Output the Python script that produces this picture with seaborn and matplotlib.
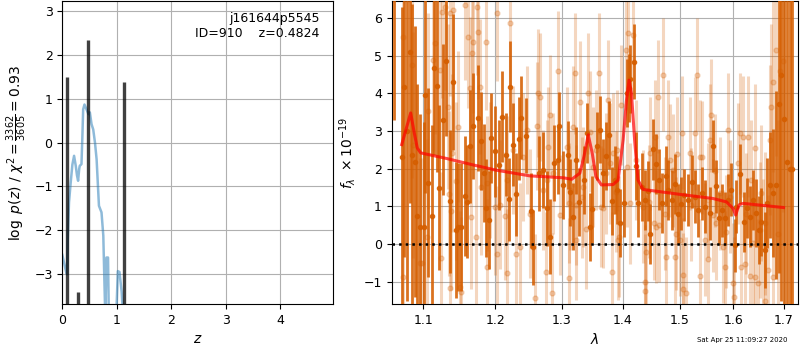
import matplotlib
matplotlib.use('Agg')
import matplotlib.pyplot as plt
import seaborn as sns
import numpy as np
import pandas as pd
from matplotlib.ticker import FixedLocator, FixedFormatter, NullLocator, NullFormatter

# ---------------- data: left panel, p(z) ----------------
pz_z = [0.0, 0.043, 0.07, 0.086, 0.10, 0.123, 0.154, 0.185, 0.216, 0.247, 0.27, 0.29,
        0.31, 0.32, 0.352, 0.37, 0.383, 0.407, 0.444, 0.48, 0.506, 0.537, 0.568, 0.60,
        0.63, 0.673, 0.72, 0.753, 0.77, 0.79, 0.81, 0.84, 0.855, 0.90, 0.95, 0.99,
        1.02, 1.05, 1.09, 1.12]
pz_logp = [-2.56, -2.80, -2.95, -3.0, -2.2, -1.36, -0.91, -0.50, -0.30, -0.53, -0.75, -0.87,
           -0.60, -0.53, -0.49, 0.20, 0.76, 0.87, 0.76, 0.65, 0.69, 0.42, 0.30, 0.0,
           -0.38, -1.44, -1.59, -2.12, -3.0, -4.0, -2.62, -2.62, -4.0, -4.5, -4.5, -4.0,
           -2.93, -2.95, -3.40, -4.0]
zbar_z = [0.092, 0.294, 0.475, 1.138]
zbar_h = [1.49, -3.41, 2.35, 1.38]

# ---------------- data: right panel, spectrum ----------------
dark_wave = [1.0617, 1.0716, 1.0746, 1.0781, 1.0824, 1.0846, 1.0890, 1.0921, 1.0956, 1.1013,
             1.1022, 1.1066, 1.1111, 1.1147, 1.1179, 1.1215, 1.1260, 1.1305, 1.1360, 1.1406,
             1.1443, 1.1475, 1.1507, 1.1563, 1.1600, 1.1633, 1.1680, 1.1751, 1.1789, 1.1836,
             1.1869, 1.1903, 1.1941, 1.1999, 1.2048, 1.2101, 1.2150, 1.2193, 1.2218, 1.2262,
             1.2307, 1.2346, 1.2381, 1.2456, 1.2526, 1.2562, 1.2643, 1.2704, 1.2766, 1.2817,
             1.2885, 1.2937, 1.2963, 1.3025, 1.3094, 1.3136, 1.3173, 1.3226, 1.3279, 1.3359,
             1.3413, 1.3451, 1.3494, 1.3571, 1.3625, 1.3669, 1.3724, 1.3763, 1.3818, 1.3863,
             1.3902, 1.3947, 1.4014, 1.4071, 1.4099, 1.4128, 1.4184, 1.4224, 1.4259, 1.4328,
             1.4386, 1.4426, 1.4473, 1.4520, 1.4578, 1.4619, 1.4678, 1.4743, 1.4791, 1.4851,
             1.4911, 1.4959, 1.5019, 1.5079, 1.5153, 1.5226, 1.5275, 1.5337, 1.5398, 1.5461,
             1.5554, 1.5605, 1.5661, 1.5724, 1.5787, 1.5838, 1.5902, 1.5960, 1.6025, 1.6057,
             1.6135, 1.6200, 1.6265, 1.6331, 1.6384, 1.6450, 1.6503, 1.6550, 1.6616, 1.6663,
             1.6717, 1.6785, 1.6852, 1.6906, 1.6954, 1.7002, 1.7071, 1.7126, 1.7181]
dark_flux = [7.0, 2.3, 4.16, 3.0, 5.1, 2.37, 2.19, 0.75, 0.45, 0.45,
             3.95, 1.63, 0.75, 4.66, 4.2, 1.5, 3.3, 4.87, 1.14, 4.3,
             0.37, 0.45, 0.46, 1.28, 1.13, 2.6, 3.13, 3.35, 2.73, 1.88,
             0.95, 0.64, 2.81, 2.46, 2.1, 3.38, 2.37, 1.19, 4.18, 2.64,
             1.32, 2.79, 3.35, 2.88, 0.89, -0.09, 1.88, 1.97, 0.95, 0.2,
             2.15, 2.22, 3.13, 1.57, 2.37, 1.37, 0.73, 2.22, 1.11, 1.71,
             2.95, 0.45, 0.92, 2.6, 3.04, 1.88, 2.33, 2.9, 1.15, 1.71,
             1.44, 0.57, 1.09, 4.02, 4.15, 4.37, 4.84, 2.08, 1.09, 1.51,
             1.17, 1.4, 0.27, 2.51, 2.13, 1.71, 1.09, 1.8, 1.44, 1.17,
             1.6, 0.8, 1.07, 1.3, 1.17, 1.66, 1.26, 0.9, 1.35, 0.99,
             0.82, 2.6, 1.53, 0.68, 0.9, 0.68, 1.17, 1.44, -0.03, 0.99,
             1.86, 0.59, 0.95, 0.73, 1.17, 0.82, 0.37, 0.59, -0.16, 1.09,
             1.57, 1.35, 1.57, 3.73, 4.5, 3.33, 2.17, 2.0, 2.0]
dark_err = [3.7, 4.0, 4.5, 4.5, 4.0, 4.0, 3.6, 3.5, 3.0, 2.8,
            2.6, 2.5, 2.4, 2.3, 2.3, 2.2, 2.0, 2.0, 1.9, 1.8,
            1.8, 1.7, 1.7, 1.6, 1.5, 1.5, 1.4, 1.4, 1.3, 1.3,
            1.3, 1.3, 1.2, 1.2, 1.2, 1.2, 1.1, 1.1, 1.2, 1.1,
            1.1, 1.1, 1.1, 1.0, 1.0, 1.0, 1.0, 1.0, 1.0, 1.0,
            1.0, 0.9, 0.9, 0.9, 0.9, 0.9, 0.9, 0.9, 0.9, 0.9,
            0.8, 0.9, 0.9, 0.9, 0.9, 0.9, 0.9, 0.9, 0.9, 0.9,
            0.9, 0.9, 0.9, 0.9, 0.9, 0.9, 1.0, 0.9, 0.9, 0.9,
            0.8, 0.8, 0.8, 0.8, 0.8, 0.8, 0.8, 0.8, 0.8, 0.8,
            0.8, 0.8, 0.7, 0.7, 0.7, 0.7, 0.7, 0.7, 0.7, 0.7,
            0.7, 0.7, 0.7, 0.7, 0.7, 0.7, 0.7, 0.7, 0.7, 0.7,
            0.8, 0.8, 0.8, 0.8, 0.8, 0.9, 0.9, 0.9, 1.0, 1.2,
            1.4, 1.7, 2.5, 4.5, 6.0, 6.0, 8.0, 8.0, 8.0]

light_wave = [1.0728, 1.0737, 1.0846, 1.0868, 1.0956, 1.0978, 1.1044, 1.1057, 1.1134, 1.1157,
              1.1224, 1.1238, 1.1247, 1.1292, 1.1337, 1.1351, 1.1360, 1.1362, 1.1374, 1.1383,
              1.1406, 1.1443, 1.1475, 1.1498, 1.1517, 1.1568, 1.1614, 1.1638, 1.1657, 1.1661,
              1.1685, 1.1727, 1.1732, 1.1756, 1.1779, 1.1798, 1.1869, 1.1874, 1.1880, 1.1922,
              1.1994, 1.2019, 1.2029, 1.2062, 1.2135, 1.2164, 1.2174, 1.2213, 1.2262, 1.2307,
              1.2361, 1.2411, 1.2461, 1.2511, 1.2587, 1.2617, 1.2638, 1.2663, 1.2714, 1.2756,
              1.2766, 1.2791, 1.2817, 1.2843, 1.2869, 1.2947, 1.2973, 1.3078, 1.3110, 1.3120,
              1.3130, 1.3183, 1.3210, 1.3226, 1.3236, 1.3290, 1.3333, 1.3343, 1.3386, 1.3424,
              1.3451, 1.3505, 1.3560, 1.3603, 1.3641, 1.3669, 1.3724, 1.3752, 1.3780, 1.3818,
              1.3835, 1.3891, 1.3902, 1.3919, 1.3930, 1.3975, 1.4060, 1.4071, 1.4088, 1.4116,
              1.4173, 1.4230, 1.4345, 1.4374, 1.4386, 1.4403, 1.4444, 1.4461, 1.4532, 1.4549,
              1.4578, 1.4608, 1.4619, 1.4696, 1.4726, 1.4755, 1.4791, 1.4815, 1.4875, 1.4911,
              1.4935, 1.4941, 1.4995, 1.5031, 1.5055, 1.5061, 1.5116, 1.5177, 1.5207, 1.5269,
              1.5306, 1.5361, 1.5367, 1.5398, 1.5455, 1.5517, 1.5523, 1.5548, 1.5580, 1.5611,
              1.5648, 1.5674, 1.5737, 1.5800, 1.5838, 1.5864, 1.5896, 1.5928, 1.5992, 1.6005,
              1.6090, 1.6122, 1.6154, 1.6187, 1.6219, 1.6252, 1.6285, 1.6318, 1.6351, 1.6384,
              1.6417, 1.6420, 1.6483, 1.6516, 1.6550, 1.6583, 1.6616, 1.6620, 1.6683, 1.6717,
              1.6751, 1.6785, 1.6790, 1.6852, 1.6886, 1.6920, 1.6989]
light_flux = [5.50, -0.87, 4.75, 2.63, -0.51, -0.51, 0.19, 3.53, 4.88, 5.33,
              4.62, -0.38, 6.17, 6.30, 3.65, 1.34, 6.12, -1.17, 0.87, 2.41,
              6.21, 1.68, 3.12, -1.13, -1.28, 6.35, 5.50, 4.13, 0.71, 5.06,
              5.37, 0.20, 6.30, 5.64, 4.18, 1.51, 5.35, 1.61, -0.60, 1.96,
              0.99, 6.12, -0.25, 1.05, 0.75, 1.70, -0.78, 5.86, 2.50, -0.26,
              -0.07, 2.32, 3.03, 0.81, -1.44, 3.13, 4.00, 3.91, 1.43, -0.74,
              1.70, 2.58, 3.42, -1.31, 1.88, 4.58, 0.77, 2.58, 1.09, -0.90,
              1.43, 3.12, 4.53, 0.11, 1.04, 3.78, 1.24, 1.52, 0.40, 4.00,
              2.98, 2.05, 2.50, 4.53, 0.99, 0.96, 1.88, 3.82, 2.14, -0.74,
              2.41, 1.39, 2.49, 0.11, 0.20, 3.69, 5.15, 2.05, 5.59, 1.08,
              5.55, 2.23, 0.99, -1.00, -1.24, -0.20, 1.13, 2.41, 0.55, 2.85,
              0.46, 3.91, 0.50, 4.49, 0.81, -0.34, 2.85, 2.23, 1.96, -0.35,
              0.28, 2.40, 0.11, 2.96, -0.82, -1.20, -1.31, 2.41, 1.04, 2.94,
              4.50, 2.32, -0.84, 2.31, 0.11, 1.17, -0.40, 2.76, 3.42, 0.77,
              1.95, 0.55, 1.35, -0.07, -0.62, 0.33, 3.03, 1.26, -1.04, -1.40,
              2.14, 2.94, -0.60, 2.85, -0.53, 0.81, 2.85, -0.84, 1.69, 0.02,
              2.54, -0.87, -1.04, 0.37, 1.35, -0.07, 0.55, -1.50, -0.69, 2.76,
              3.65, 4.31, -0.87, 5.15, 0.28, 4.60, 4.85]
light_err = [3.2, 3.2, 3.0, 3.0, 2.8, 2.8, 2.6, 2.6, 2.4, 2.4,
             2.3, 2.3, 2.3, 2.2, 2.2, 2.2, 2.2, 2.2, 2.1, 2.1,
             2.1, 2.1, 2.0, 2.0, 2.0, 2.0, 1.9, 1.9, 1.9, 1.9,
             1.9, 1.8, 1.8, 1.8, 1.8, 1.8, 1.8, 1.8, 1.8, 1.8,
             1.8, 1.8, 1.8, 1.7, 1.7, 1.7, 1.7, 1.7, 1.7, 1.7,
             1.7, 1.7, 1.7, 1.7, 1.7, 1.7, 1.7, 1.7, 1.6, 1.6,
             1.6, 1.6, 1.6, 1.6, 1.6, 1.6, 1.6, 1.6, 1.6, 1.6,
             1.6, 1.6, 1.6, 1.6, 1.6, 1.6, 1.6, 1.6, 1.6, 1.6,
             1.6, 1.6, 1.6, 1.6, 1.6, 1.6, 1.6, 1.6, 1.6, 1.6,
             1.6, 1.6, 1.6, 1.6, 1.6, 1.6, 1.6, 1.6, 1.6, 1.6,
             1.6, 1.6, 1.5, 1.5, 1.5, 1.5, 1.5, 1.5, 1.5, 1.5,
             1.5, 1.5, 1.5, 1.5, 1.5, 1.5, 1.5, 1.5, 1.5, 1.5,
             1.5, 1.5, 1.5, 1.5, 1.5, 1.5, 1.5, 1.5, 1.5, 1.5,
             1.5, 1.5, 1.5, 1.5, 1.5, 1.5, 1.5, 1.5, 1.5, 1.5,
             1.5, 1.5, 1.5, 1.5, 1.5, 1.5, 1.5, 1.5, 1.6, 1.6,
             1.6, 1.6, 1.6, 1.6, 1.6, 1.6, 1.6, 1.6, 1.6, 1.7,
             1.7, 1.7, 1.7, 1.8, 1.8, 1.8, 1.9, 1.9, 2.0, 2.0,
             2.2, 2.4, 2.4, 2.8, 3.0, 3.5, 4.0]

model_wave = [1.0716, 1.0780, 1.0833, 1.0880, 1.0920, 1.0965, 1.1316, 1.1684, 1.2018, 1.2512,
              1.3026, 1.3160, 1.3290, 1.3356, 1.3426, 1.3491, 1.3551, 1.3641, 1.3836, 1.3920,
              1.4004, 1.4061, 1.4105, 1.4146, 1.4200, 1.4258, 1.4346, 1.4996, 1.5611, 1.5865,
              1.5993, 1.6044, 1.6110, 1.6189, 1.7000]
model_flux = [2.64, 3.10, 3.48, 2.95, 2.55, 2.42, 2.27, 2.10, 1.96, 1.81,
              1.76, 1.72, 1.88, 2.32, 2.90, 2.41, 1.79, 1.57, 1.58, 1.70,
              2.76, 3.82, 4.35, 4.00, 2.76, 1.70, 1.45, 1.32, 1.21, 1.12,
              0.95, 0.77, 1.04, 1.08, 0.97]

wave_ticks = [1.1, 1.2, 1.3, 1.4, 1.5, 1.6, 1.7]
wave_ticklabels = ['1.1', '1.2', '1.3', '1.4', '1.5', '1.6', '1.7']

# ---------------- figure ----------------
plt.rcParams['font.family'] = ['DejaVu Sans']
fig = plt.figure(figsize=(8, 3.5), dpi=100)
ax1 = fig.add_axes([0.0779, 0.1314, 0.3388, 0.8657])
ax2 = fig.add_axes([0.4896, 0.1314, 0.5085, 0.8657])

G141 = (0.8353, 0.3686, 0.0)

# left panel
sns.lineplot(x=pz_z, y=pz_logp, ax=ax1, color='tab:blue', alpha=0.5, lw=1.8,
             estimator=None, sort=False)
ax1.vlines(zbar_z, -3.68, zbar_h, color='k', alpha=0.75, lw=2.4)
ax1.set_xlim(0, 4.98)
ax1.set_ylim(-3.68, 3.23)
ax1.set_xticks([0, 1, 2, 3, 4])
ax1.set_yticks([-3, -2, -1, 0, 1, 2, 3])
ax1.grid(True)
ax1.set_xlabel('$z$', fontsize=10)
ax1.set_ylabel(r'$\log\ p(z)$ / $\chi^2=\frac{3362}{3605}=0.93$', fontsize=10)
ax1.tick_params(labelsize=9)
ax1.text(0.95, 0.965, 'j161644p5545\nID=910    z=0.4824', transform=ax1.transAxes,
         ha='right', va='top', fontsize=9)

# right panel
ax2.errorbar(light_wave, light_flux, yerr=light_err, fmt='o', color=G141, alpha=0.25,
             ms=3.5, elinewidth=2.2, capsize=0, zorder=2)
ax2.errorbar(dark_wave, dark_flux, yerr=dark_err, fmt='o', color=G141, alpha=0.88,
             ms=3, elinewidth=2.0, capsize=0, zorder=3)
sns.lineplot(x=model_wave, y=model_flux, ax=ax2, color='r', alpha=0.7, lw=2.2,
             estimator=None, sort=False, zorder=5)
ax2.axhline(0, color='k', ls=':', lw=1.8, zorder=6)
ax2.set_xscale('log')
ax2.set_xlim(1.0587, 1.731)
ax2.set_ylim(-1.59, 6.45)
ax2.xaxis.set_major_locator(FixedLocator(wave_ticks))
ax2.xaxis.set_major_formatter(FixedFormatter(wave_ticklabels))
ax2.xaxis.set_minor_locator(NullLocator())
ax2.xaxis.set_minor_formatter(NullFormatter())
ax2.set_yticks([-1, 0, 1, 2, 3, 4, 5, 6])
ax2.grid(True)
ax2.set_xlabel(r'$\lambda$', fontsize=10)
ax2.set_ylabel(r'$f_\lambda\ \times 10^{-19}$', fontsize=10)
ax2.tick_params(labelsize=9)

fig.text(0.984, 0.02, 'Sat Apr 25 11:09:27 2020', ha='right', va='bottom', fontsize=5)

fig.savefig('out.png', dpi=100)
